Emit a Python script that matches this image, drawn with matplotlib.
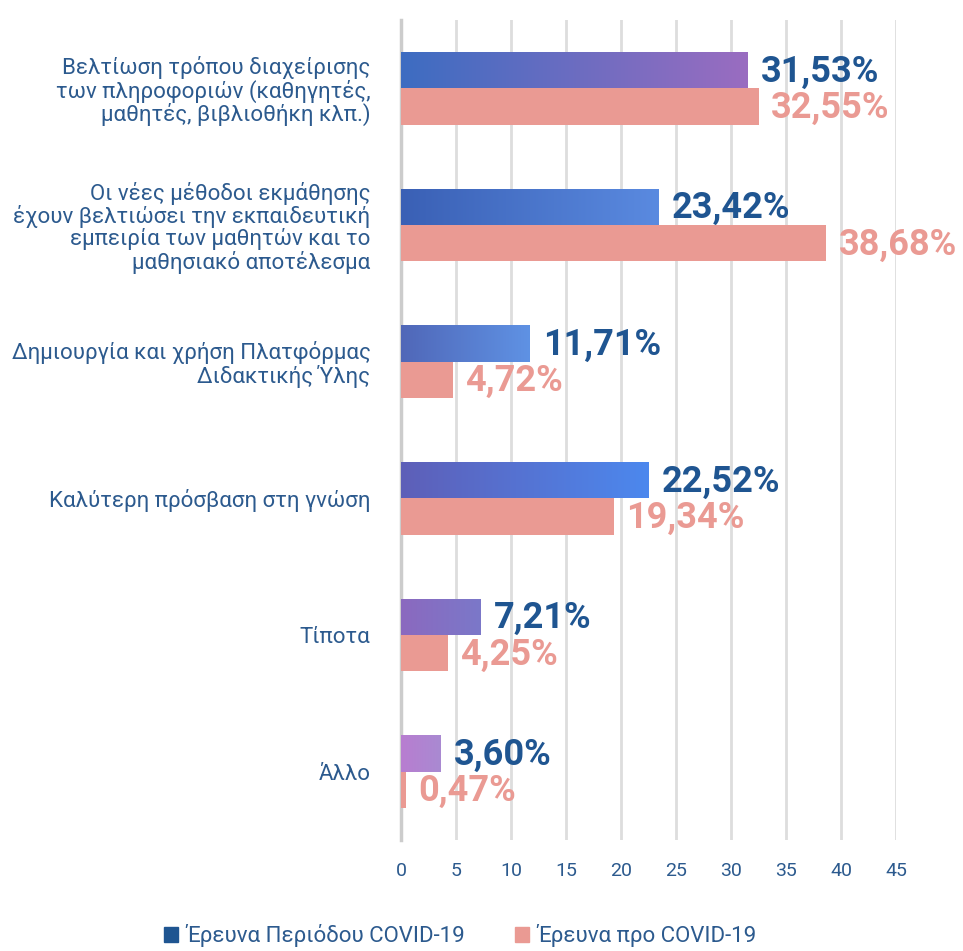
import matplotlib
matplotlib.use("Agg")
import matplotlib.pyplot as plt
import numpy as np
from matplotlib.colors import LinearSegmentedColormap
from matplotlib.patches import Patch

plt.rcParams['font.family'] = ['Roboto', 'DejaVu Sans']

categories = [
    "Βελτίωση τρόπου διαχείρισης\nτων πληροφοριών (καθηγητές,\nμαθητές, βιβλιοθήκη κλπ.)",
    "Οι νέες μέθοδοι εκμάθησης\nέχουν βελτιώσει την εκπαιδευτική\nεμπειρία των μαθητών και το\nμαθησιακό αποτέλεσμα",
    "Δημιουργία και χρήση Πλατφόρμας\nΔιδακτικής Ύλης",
    "Καλύτερη πρόσβαση στη γνώση",
    "Τίποτα",
    "Άλλο",
]
covid = [31.53, 23.42, 11.71, 22.52, 7.21, 3.60]
pre_covid = [32.55, 38.68, 4.72, 19.34, 4.25, 0.47]
series_names = ["Έρευνα Περιόδου COVID-19", "Έρευνα προ COVID-19"]
xticks = list(range(0, 50, 5))

# gradient colours for the textured covid bars (left -> right)
grad_colors = [
    ("#3d6dc2", "#9a6cc0"),
    ("#3a60b5", "#5a8ae0"),
    ("#5067b8", "#5f92e4"),
    ("#5e5fb8", "#4c88ee"),
    ("#8b69bf", "#7b78c9"),
    ("#b87dd0", "#a98ad2"),
]
pink = "#ea9a93"
dark_blue = "#1f5591"
text_blue = "#2c5a8e"

fig = plt.figure(figsize=(9.63, 9.51), dpi=100)
ax = fig.add_axes([401/963, 111/951, 495/963, 820/951])

y = np.arange(len(categories))
h = 0.265

bars_c = ax.barh(y - h/2, covid, height=h, color="none", zorder=3)
bars_p = ax.barh(y + h/2, pre_covid, height=h, color=pink, zorder=3)

grad = np.linspace(0, 1, 256).reshape(1, -1)
for bar, (c0, c1) in zip(bars_c, grad_colors):
    x0, yb = bar.get_x(), bar.get_y()
    w, hh = bar.get_width(), bar.get_height()
    cmap = LinearSegmentedColormap.from_list("g", [c0, c1])
    im = ax.imshow(grad, cmap=cmap, aspect="auto", extent=[x0, x0 + w, yb + hh, yb],
                   zorder=3, interpolation="bilinear")
    im.set_clip_path(bar)

for bar, v in zip(bars_c, covid):
    ax.text(bar.get_width() + 1.2, bar.get_y() + bar.get_height()/2 + 0.01,
            f"{v:.2f}".replace(".", ",") + "%", color=dark_blue, fontsize=26,
            fontweight="bold", va="center", ha="left", clip_on=False)
for bar, v in zip(bars_p, pre_covid):
    ax.text(bar.get_width() + 1.1, bar.get_y() + bar.get_height()/2 + 0.01,
            f"{v:.2f}".replace(".", ",") + "%", color=pink, fontsize=26,
            fontweight="bold", va="center", ha="left", clip_on=False)

ax.set_xlim(0, 45)
ax.set_ylim(5.5, -0.5)
ax.set_xticks(xticks)
ax.set_yticks(y)
ax.set_yticklabels(categories, fontsize=16, color=text_blue, linespacing=1.02)
ax.tick_params(axis="x", length=0, pad=16, labelsize=14, labelcolor=text_blue)
ax.tick_params(axis="y", length=0, pad=22)
ax.grid(axis="x", color="#dddddd", linewidth=2, zorder=0)
for s in ["top", "right", "bottom"]:
    ax.spines[s].set_visible(False)
ax.spines["left"].set_color("#cccccc")
ax.spines["left"].set_linewidth(2.5)

handles = [Patch(color=dark_blue), Patch(color=pink)]
fig.legend(handles, series_names, loc="center", bbox_to_anchor=(0.478, 0.016),
           ncol=2, frameon=False, fontsize=16, handlelength=0.63, handleheight=0.63,
           handletextpad=0.36, columnspacing=2.25, labelcolor=text_blue)

fig.savefig("out.png", dpi=100)
